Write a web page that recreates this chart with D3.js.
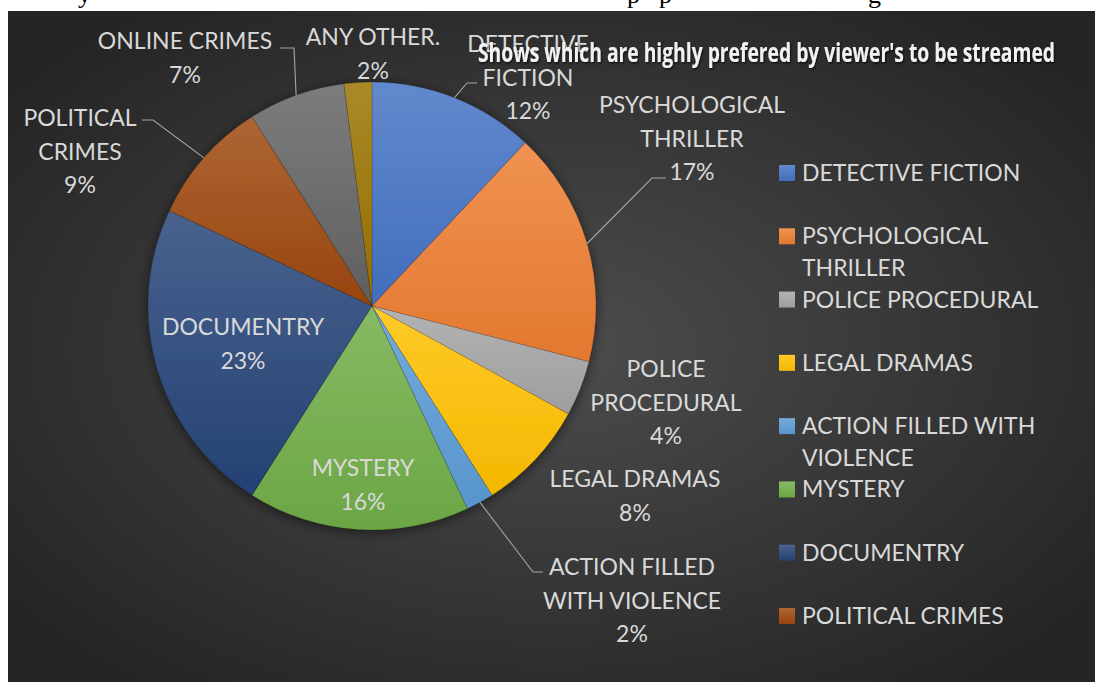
<!DOCTYPE html>
<html>
<head>
<meta charset="utf-8">
<script src="https://cdn.jsdelivr.net/npm/d3@7"></script>
<style>
  body { margin: 0; background: #fff; }
  svg { display: block; }
</style>
</head>
<body>
<div id="chart"></div>
<script>
// Chart data
const categories = ["DETECTIVE FICTION", "PSYCHOLOGICAL THRILLER", "POLICE PROCEDURAL", "LEGAL DRAMAS",
  "ACTION FILLED WITH VIOLENCE", "MYSTERY", "DOCUMENTRY", "POLITICAL CRIMES", "ONLINE CRIMES", "ANY OTHER."];
const shares = [12, 17, 4, 8, 2, 16, 23, 9, 7, 2];
const sliceColors = ["#4472C4", "#ED7D31", "#A5A5A5", "#FFC000", "#5B9BD5", "#70AD47",
  "#264478", "#9E480E", "#636363", "#997300"];
const chartTitle = "Shows which are highly prefered by viewer's to be streamed";
// Excel ran out of room and only shows the first 8 legend entries
const legendCount = 8;

// Label layout (words per line, centre x, first baseline, optional leader elbow/end)
const labelLayout = [
  { words: [1, 1], x: 528, y: 52, elbow: [467, 83], end: 477 },
  { words: [1, 1], x: 692, y: 113, elbow: [652, 178], end: 666 },
  { words: [1, 1], x: 666, y: 377 },
  { words: [2], x: 635, y: 487 },
  { words: [2, 2], x: 632, y: 575, elbow: [533, 572], end: 543 },
  { words: [1], x: 363, y: 476 },
  { words: [1], x: 243, y: 335 },
  { words: [1, 1], x: 80, y: 126, elbow: [153, 120], end: 142 },
  { words: [2], x: 185, y: 49, elbow: [294, 48], end: 280 },
  { words: [2], x: 373, y: 45 }
];

const W = 1102, H = 682;
const cx = 372, cy = 306, radius = 224;
const font = "Lato, 'Open Sans', sans-serif";
const lineH = 33.5;

const svg = d3.select('#chart').append('svg')
  .attr('width', W)
  .attr('height', H);

const defs = svg.append('defs');

// background radial gradient
const bg = defs.append('radialGradient')
  .attr('id', 'bg')
  .attr('cx', '50%').attr('cy', '50%').attr('r', '62%');
bg.append('stop').attr('offset', '0%').attr('stop-color', '#4d4d4d');
bg.append('stop').attr('offset', '100%').attr('stop-color', '#252525');

// per-slice vertical gradients
sliceColors.forEach((c, i) => {
  const g = defs.append('linearGradient')
    .attr('id', 'slice' + i)
    .attr('x1', 0).attr('y1', 0).attr('x2', 0).attr('y2', 1);
  g.append('stop').attr('offset', '0%').attr('stop-color', d3.interpolateRgb(c, '#ffffff')(0.16));
  g.append('stop').attr('offset', '100%').attr('stop-color', d3.color(c).darker(0.12));
});

const pieShadow = defs.append('filter').attr('id', 'pieShadow')
  .attr('x', '-20%').attr('y', '-20%').attr('width', '140%').attr('height', '140%');
pieShadow.append('feDropShadow')
  .attr('dx', 0).attr('dy', 2).attr('stdDeviation', 6)
  .attr('flood-color', '#000').attr('flood-opacity', 0.55);

const textShadow = defs.append('filter').attr('id', 'textShadow')
  .attr('x', '-10%').attr('y', '-30%').attr('width', '120%').attr('height', '160%');
textShadow.append('feDropShadow')
  .attr('dx', 1).attr('dy', 1.5).attr('stdDeviation', 1)
  .attr('flood-color', '#000').attr('flood-opacity', 0.7);

// bits of the document text line above the chart (only descenders show)
const docBits = [["y", 78], ["p", 627], ["p", 659], ["g", 868]];
svg.append('g').selectAll('text')
  .data(docBits)
  .enter()
  .append('text')
  .attr('x', d => d[1])
  .attr('y', 3)
  .style('font-family', "'Liberation Serif', serif")
  .style('font-size', '26px')
  .attr('fill', '#000')
  .text(d => d[0]);

// chart area
svg.append('rect')
  .attr('x', 8).attr('y', 11)
  .attr('width', 1087).attr('height', H - 11)
  .attr('fill', 'url(#bg)');

// pie
const pie = d3.pie().sort(null).value(d => d.value);
const arcs = pie(categories.map((c, i) => ({ name: c, value: shares[i], i })));
const arc = d3.arc().innerRadius(0).outerRadius(radius);
const edgeArc = d3.arc().innerRadius(radius).outerRadius(radius);

const pieG = svg.append('g')
  .attr('transform', `translate(${cx},${cy})`)
  .attr('filter', 'url(#pieShadow)');

pieG.selectAll('path')
  .data(arcs)
  .enter()
  .append('path')
  .attr('d', arc)
  .attr('fill', d => `url(#slice${d.data.i})`)
  .attr('stroke', 'rgba(0,0,0,0.25)')
  .attr('stroke-width', 0.6);

// leader lines
const leaders = svg.append('g')
  .attr('fill', 'none')
  .attr('stroke', '#a6a6a6')
  .attr('stroke-width', 1.1);

arcs.forEach((d, i) => {
  const lay = labelLayout[i];
  if (!lay.elbow) return;
  const p = edgeArc.centroid(d);
  leaders.append('polyline')
    .attr('points', [[cx + p[0], cy + p[1]], lay.elbow, [lay.end, lay.elbow[1]]].map(q => q.join(',')).join(' '));
});

// data labels
const labels = svg.append('g')
  .attr('fill', '#d9d9d9')
  .attr('text-anchor', 'middle')
  .style('font-family', font)
  .style('font-size', '23px');

arcs.forEach((d, i) => {
  const lay = labelLayout[i];
  const words = d.data.name.split(' ');
  const lines = [];
  let k = 0;
  lay.words.forEach(n => { lines.push(words.slice(k, k + n).join(' ')); k += n; });
  lines.push(d.data.value + '%');
  lines.forEach((t, j) => {
    labels.append('text')
      .attr('x', lay.x)
      .attr('y', lay.y + j * lineH)
      .text(t);
  });
});

// title
svg.append('text')
  .attr('x', 478)
  .attr('y', 62)
  .attr('textLength', 577)
  .attr('lengthAdjust', 'spacingAndGlyphs')
  .attr('fill', '#f2f2f2')
  .attr('filter', 'url(#textShadow)')
  .style('font-family', "'Liberation Sans Narrow', 'Open Sans', sans-serif")
  .style('font-weight', 'bold')
  .style('font-size', '27px')
  .text(chartTitle);

// legend
const legendWrap = { "PSYCHOLOGICAL THRILLER": ["PSYCHOLOGICAL", "THRILLER"],
  "ACTION FILLED WITH VIOLENCE": ["ACTION FILLED WITH", "VIOLENCE"] };
const legendY = d3.scaleLinear().domain([0, legendCount - 1]).range([173, 616]);

const legend = svg.append('g')
  .style('font-family', font)
  .style('font-size', '23px');

const items = legend.selectAll('.item')
  .data(categories.slice(0, legendCount))
  .enter()
  .append('g')
  .attr('class', 'item')
  .attr('transform', (d, i) => `translate(779,${legendY(i)})`);

items.append('rect')
  .attr('x', 0).attr('y', -8)
  .attr('width', 16).attr('height', 16)
  .attr('fill', (d, i) => `url(#slice${i})`);

items.each(function (d) {
  const lines = legendWrap[d] || [d];
  lines.forEach((t, j) => {
    d3.select(this).append('text')
      .attr('x', 23)
      .attr('y', 8 + j * 32)
      .attr('fill', '#d9d9d9')
      .text(t);
  });
});
</script>
</body>
</html>
